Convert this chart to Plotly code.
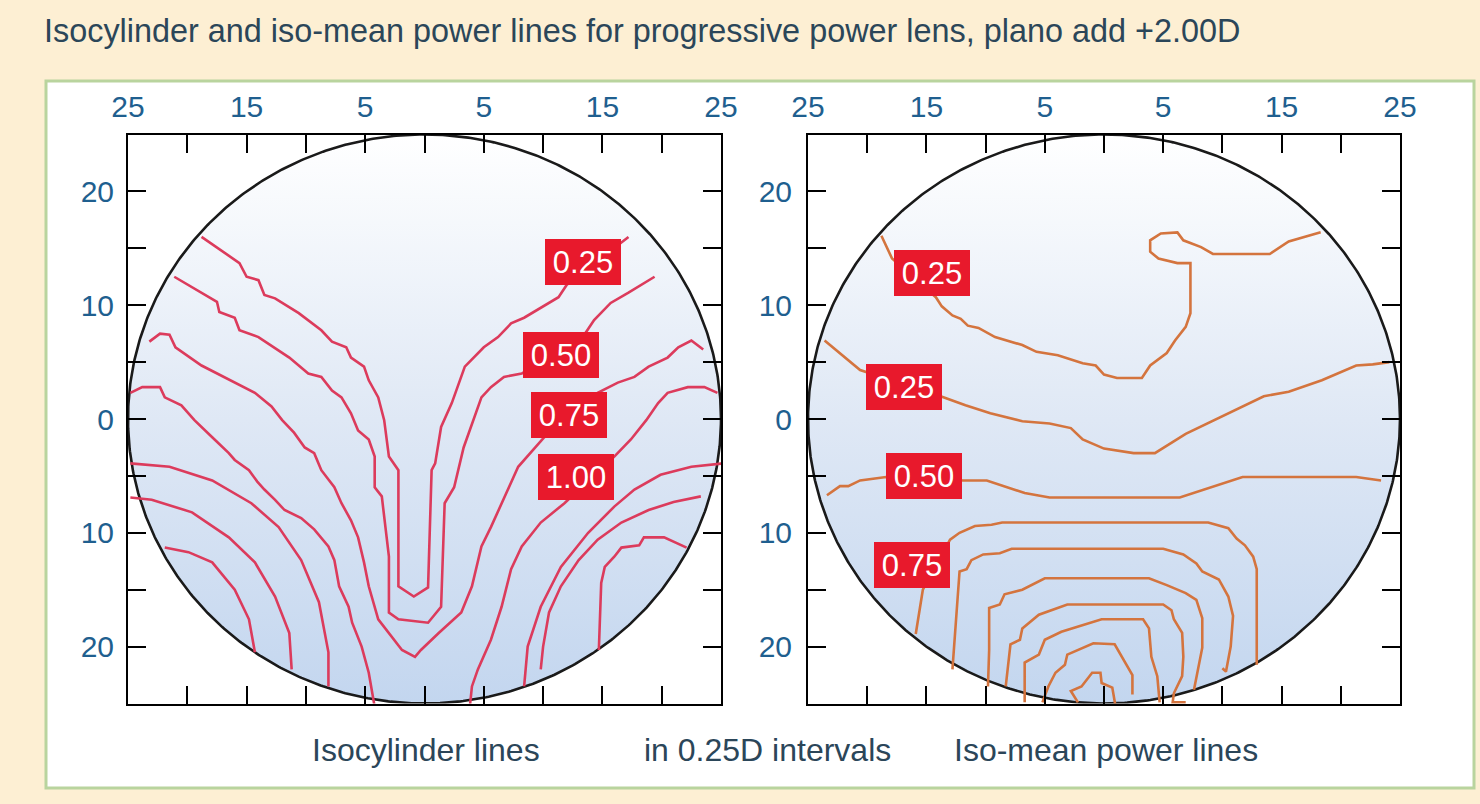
import numpy as np
import plotly.graph_objects as go

# ---------------- data (lens coordinates in mm) ----------------
TITLE = "Isocylinder and iso-mean power lines for progressive power lens, plano add +2.00D"
CAPTIONS = ["Isocylinder lines", "in 0.25D intervals", "Iso-mean power lines"]
LENS_RADIUS = 25
TICK_VALS = [-25, -20, -15, -10, -5, 0, 5, 10, 15, 20, 25]
X_TICK_TEXT = ["25", "", "15", "", "5", "", "5", "", "15", "", "25"]
Y_TICK_TEXT = ["", "20", "", "10", "", "0", "", "10", "", "20", ""]

# Isocylinder lines (left panel)
cyl_025 = [(-18.8, 16.0), (-15.6, 13.7), (-15.0, 12.5), (-14.0, 12.2), (-13.5, 10.9), (-12.6, 10.6),
           (-10.6, 9.3), (-8.7, 7.8), (-7.8, 6.8), (-6.6, 6.3), (-6.2, 5.4), (-5.1, 4.6), (-4.7, 3.4),
           (-3.9, 1.9), (-3.4, -0.1), (-3.0, -3.3), (-2.2, -4.5), (-2.2, -14.7), (-0.9, -15.6),
           (0.3, -14.8), (0.6, -4.5), (0.9, -3.9), (1.4, -0.7), (2.3, 1.4), (3.4, 4.6), (5.0, 6.3),
           (6.2, 7.2), (7.3, 8.4), (8.4, 8.9), (11.3, 10.7), (12.0, 11.8), (16.8, 15.7), (17.2, 16.0)]
cyl_050 = [(-21.1, 12.5), (-17.5, 10.3), (-17.3, 9.4), (-16.0, 8.9), (-15.6, 7.8), (-14.0, 7.2),
           (-11.4, 5.4), (-9.8, 4.0), (-8.7, 3.7), (-7.8, 2.5), (-7.0, 1.9), (-6.2, 0.5), (-5.6, -1.0),
           (-4.7, -1.8), (-4.2, -3.3), (-4.2, -6.0), (-3.6, -6.8), (-3.4, -8.6), (-3.0, -12.1),
           (-3.0, -17.0), (-2.2, -17.6), (0.3, -17.9), (1.4, -16.5), (1.7, -7.4), (2.5, -6.0),
           (3.3, -2.5), (4.0, -0.5), (4.8, 1.9), (5.6, 2.8), (6.7, 3.7), (8.2, 4.0), (13.6, 7.6),
           (14.3, 8.7), (15.7, 10.2), (17.2, 11.1), (19.4, 12.5)]
cyl_075 = [(-23.2, 6.8), (-22.3, 7.5), (-21.5, 7.4), (-21.0, 6.3), (-18.8, 4.7), (-17.3, 3.9),
           (-16.0, 3.2), (-14.3, 2.3), (-12.9, 1.1), (-12.0, -0.1), (-11.0, -1.2), (-10.1, -2.5),
           (-9.3, -3.0), (-8.7, -4.5), (-7.6, -6.0), (-7.0, -7.4), (-6.2, -8.9), (-5.6, -10.4),
           (-5.1, -12.6), (-4.7, -14.7), (-3.9, -17.6), (-3.0, -18.8), (-1.9, -20.3), (-0.8, -20.9),
           (-0.3, -20.3), (1.2, -18.8), (3.1, -17.0), (4.0, -14.7), (4.8, -11.2), (5.6, -9.5),
           (7.1, -6.0), (7.9, -4.2), (10.1, -1.6), (14.6, 2.3), (16.3, 3.2), (17.7, 3.7),
           (18.9, 4.6), (20.5, 5.4), (21.4, 6.3), (22.5, 6.9), (23.5, 6.1)]
cyl_100_left = [(-24.8, 2.3), (-23.8, 2.8), (-22.3, 2.8), (-21.9, 1.9), (-20.5, 1.2), (-19.4, -0.1),
                (-17.9, -1.6), (-16.5, -3.0), (-16.0, -3.6), (-14.8, -4.5), (-14.1, -5.5), (-13.5, -6.2),
                (-12.6, -7.1), (-11.8, -8.0), (-10.4, -8.7), (-9.3, -9.7), (-8.1, -11.2), (-7.6, -12.4),
                (-7.2, -14.7), (-6.4, -16.5), (-6.1, -17.9), (-5.3, -20.0), (-4.7, -22.3), (-4.2, -25.3)]
cyl_100_right = [(3.8, -25.5), (4.0, -23.5), (4.5, -22.0), (5.6, -19.4), (6.5, -16.5), (7.3, -13.2),
                 (8.2, -11.2), (9.8, -9.1), (11.8, -7.4), (16.0, -3.3), (17.4, -1.8), (18.7, -0.1),
                 (19.7, 1.4), (20.5, 2.3), (22.2, 2.8), (23.6, 2.8), (24.7, 2.3)]
cyl_125_left = [(-24.8, -3.9), (-21.5, -4.2), (-17.9, -5.4), (-14.6, -7.4), (-12.3, -9.5),
                (-10.4, -12.4), (-8.9, -16.1), (-8.1, -20.5), (-8.1, -23.5)]
cyl_150_left = [(-24.8, -6.9), (-23.0, -7.1), (-19.6, -8.2), (-16.5, -10.4), (-14.3, -12.6),
                (-12.6, -15.6), (-11.4, -18.8), (-11.2, -22.0)]
cyl_175_left = [(-21.9, -11.3), (-19.9, -11.7), (-17.9, -12.6), (-16.0, -15.0), (-14.8, -17.6),
                (-14.3, -20.5)]
cyl_125_right = [(25.2, -3.9), (22.5, -4.2), (19.9, -4.9), (17.7, -6.2), (16.0, -7.7), (13.8, -10.0),
                 (11.5, -13.0), (9.8, -16.5), (8.7, -20.0), (8.4, -23.5)]
cyl_150_right = [(23.3, -6.8), (21.0, -7.3), (18.9, -8.0), (16.6, -9.1), (14.6, -10.6), (13.0, -12.4),
                 (11.5, -14.7), (10.5, -17.0), (10.0, -20.0), (9.8, -22.0)]
cyl_175_right = [(22.1, -11.3), (20.2, -10.4), (18.5, -10.4), (18.1, -11.1), (16.6, -11.3),
                 (16.0, -12.1), (15.2, -13.0), (14.9, -14.4), (14.7, -20.3)]
CYL_LABELS = ["0.25", "0.50", "0.75", "1.00"]
CYL_LABEL_X = [13.4, 11.5, 12.2, 12.75]
CYL_LABEL_Y = [13.8, 5.6, 0.35, -5.1]

# Iso-mean power lines (right panel)
mean_025_upper = [(-18.8, 16.1), (-17.9, 14.1), (-14.2, 10.7), (-13.7, 9.9), (-12.8, 9.1), (-12.1, 8.8),
                  (-11.5, 8.2), (-10.6, 8.0), (-9.2, 7.2), (-6.9, 6.5), (-5.7, 5.9), (-3.9, 5.6),
                  (-1.8, 4.9), (-0.7, 4.7), (0.0, 3.9), (1.1, 3.6), (3.2, 3.6), (3.9, 4.7), (5.3, 5.8),
                  (6.0, 6.9), (6.9, 8.1), (7.3, 9.3), (7.3, 13.7), (6.2, 13.7), (4.6, 14.1), (3.9, 14.7),
                  (3.9, 15.7), (4.8, 16.3), (6.2, 16.4), (6.7, 15.7), (8.2, 15.1), (9.2, 14.5),
                  (14.0, 14.5), (15.6, 15.6), (18.3, 16.4)]
mean_025_lower = [(-23.6, 6.9), (-20.6, 4.3), (-13.8, 2.0), (-11.7, 1.2), (-9.6, 0.5), (-6.9, -0.2),
                  (-4.6, -0.4), (-2.8, -0.8), (-1.8, -1.8), (0.0, -2.6), (2.5, -3.0), (4.3, -3.0),
                  (6.9, -1.3), (9.9, 0.2), (13.5, 2.0), (15.6, 2.4), (18.4, 3.4), (21.3, 4.7),
                  (22.7, 4.8), (24.1, 5.0)]
mean_050 = [(-23.4, -6.7), (-22.3, -5.9), (-21.6, -5.9), (-20.6, -5.4), (-18.4, -5.1), (-11.9, -5.4),
            (-9.9, -5.4), (-6.7, -6.5), (-4.6, -6.9), (6.4, -6.9), (11.7, -5.1), (21.3, -5.1), (23.4, -5.4)]
mean_loop_1 = [(-15.9, -18.9), (-15.3, -15.0), (-13.0, -10.6), (-12.2, -10.0), (-10.9, -9.4),
               (-9.5, -9.3), (-8.6, -9.1), (8.8, -9.1), (10.5, -9.6), (11.2, -10.5), (11.9, -11.1),
               (12.6, -12.1), (12.9, -13.2), (12.9, -21.6)]
mean_loop_2 = [(-12.8, -22.0), (-12.4, -16.8), (-12.2, -13.4), (-11.6, -13.2), (-11.2, -12.4),
               (-10.2, -11.9), (-8.8, -11.8), (-7.8, -11.4), (5.0, -11.4), (6.7, -11.9), (7.8, -12.7),
               (8.3, -13.4), (9.7, -14.1), (10.5, -15.6), (10.9, -17.3), (10.7, -20.0), (10.3, -22.2),
               (10.0, -21.9)]
mean_loop_3 = [(-9.8, -23.5), (-9.7, -20.3), (-9.7, -16.6), (-8.8, -16.3), (-8.4, -15.4), (-6.9, -15.0),
               (-5.0, -14.0), (3.8, -14.0), (5.3, -14.6), (6.9, -15.3), (7.8, -15.9), (8.3, -17.5),
               (8.3, -20.1), (7.6, -23.8)]
mean_loop_4 = [(-8.3, -23.5), (-7.9, -19.8), (-7.1, -19.4), (-6.9, -18.4), (-5.5, -17.2), (-3.1, -16.3),
               (5.0, -16.3), (5.7, -16.8), (5.9, -17.6), (6.6, -18.8), (6.7, -20.9), (6.6, -22.6),
               (5.9, -24.1), (5.8, -24.9), (6.9, -24.9)]
mean_loop_5 = [(-6.7, -24.9), (-6.7, -21.4), (-5.5, -20.7), (-5.0, -19.4), (-3.6, -18.7), (-0.2, -17.6),
               (3.3, -17.6), (3.8, -18.4), (4.0, -20.9), (4.5, -22.6), (4.7, -24.9)]
mean_loop_6 = [(-5.2, -24.9), (-4.7, -23.5), (-4.1, -22.3), (-3.3, -21.6), (-3.1, -20.7), (-1.6, -20.0),
               (-0.9, -19.7), (0.9, -19.8), (1.6, -21.0), (2.4, -22.5), (2.4, -24.2)]
mean_loop_7 = [(-2.2, -24.9), (-2.8, -23.9), (-1.9, -23.5), (-1.0, -22.3), (-0.3, -22.3), (-0.2, -23.2),
               (0.7, -23.6), (1.0, -25.4)]
MEAN_LABELS = ["0.25", "0.25", "0.50", "0.75"]
MEAN_LABEL_X = [-14.5, -16.9, -15.2, -16.2]
MEAN_LABEL_Y = [12.8, 2.85, -5.0, -12.8]

# ---------------- styles ----------------
W, H = 1480, 804
BG = "#fdefd3"
CYL_COLOR = "#dc3b5c"
MEAN_COLOR = "#d4743e"
LABEL_BG = "#e8192c"
TICK_COLOR = "#1f5f8f"
TEXT_COLOR = "#2b4659"
FONT = "Liberation Sans"

X1_DOM = [128 / W, 721 / W]
X2_DOM = [808 / W, 1400 / W]
Y_DOM = [1 - 703.5 / H, 1 - 134.5 / H]

fig = go.Figure()

theta = np.linspace(0, 2 * np.pi, 721)
cx = LENS_RADIUS * np.cos(theta)
cy = LENS_RADIUS * np.sin(theta)

panels = [
    ("x", "y", CYL_COLOR,
     [cyl_025, cyl_050, cyl_075, cyl_100_left, cyl_100_right, cyl_125_left, cyl_150_left,
      cyl_175_left, cyl_125_right, cyl_150_right, cyl_175_right],
     CYL_LABELS, CYL_LABEL_X, CYL_LABEL_Y),
    ("x2", "y2", MEAN_COLOR,
     [mean_025_upper, mean_025_lower, mean_050, mean_loop_1, mean_loop_2, mean_loop_3,
      mean_loop_4, mean_loop_5, mean_loop_6, mean_loop_7],
     MEAN_LABELS, MEAN_LABEL_X, MEAN_LABEL_Y),
]

annotations = []
for xa, ya, color, lines, labels, lx, ly in panels:
    fig.add_trace(go.Scatter(
        x=cx, y=cy, xaxis=xa, yaxis=ya, mode="lines", fill="toself",
        fillgradient=dict(type="vertical", start=-LENS_RADIUS, stop=LENS_RADIUS,
                          colorscale=[[0, "#c3d6ef"], [0.5, "#dfe8f5"], [1, "#ffffff"]]),
        line=dict(color="#1a1a1a", width=2.6), hoverinfo="skip", showlegend=False))
    for pts in lines:
        fig.add_trace(go.Scatter(
            x=[p[0] for p in pts], y=[p[1] for p in pts], xaxis=xa, yaxis=ya,
            mode="lines", line=dict(color=color, width=2.6), hoverinfo="skip", showlegend=False))
    for t, x, y in zip(labels, lx, ly):
        annotations.append(dict(
            x=x, y=y, xref=xa, yref=ya, text=t, showarrow=False,
            bgcolor=LABEL_BG, width=72, height=42, borderpad=2, borderwidth=0,
            font=dict(family=FONT, size=31, color="white")))

annotations.append(dict(x=42 / W, y=1 - 31 / H, xref="paper", yref="paper", text=TITLE,
                        showarrow=False, xanchor="left", yanchor="middle",
                        font=dict(family=FONT, size=32.4, color=TEXT_COLOR)))
for t, xc in zip(CAPTIONS, [426, 767, 1106]):
    annotations.append(dict(x=xc / W, y=1 - 750 / H, xref="paper", yref="paper", text=t,
                            showarrow=False, xanchor="center", yanchor="middle",
                            font=dict(family=FONT, size=32, color=TEXT_COLOR)))

common = dict(range=[-LENS_RADIUS, LENS_RADIUS], tickmode="array", tickvals=TICK_VALS,
              ticks="inside", ticklen=18, tickwidth=2, tickcolor="black",
              showline=True, linecolor="black", linewidth=2, mirror="allticks",
              showgrid=False, zeroline=False, fixedrange=True, automargin=False,
              tickfont=dict(family=FONT, size=30, color=TICK_COLOR))

fig.update_layout(
    width=W, height=H, autosize=False,
    margin=dict(l=0, r=0, t=0, b=0, pad=0, autoexpand=False),
    paper_bgcolor=BG, plot_bgcolor="white",
    xaxis=dict(domain=X1_DOM, anchor="y", side="top", ticktext=X_TICK_TEXT,
               ticklabelstandoff=4, **common),
    yaxis=dict(domain=Y_DOM, anchor="x", ticktext=Y_TICK_TEXT, ticklabelstandoff=6, **common),
    xaxis2=dict(domain=X2_DOM, anchor="y2", side="top", ticktext=X_TICK_TEXT,
                ticklabelstandoff=4, **common),
    yaxis2=dict(domain=Y_DOM, anchor="x2", ticktext=Y_TICK_TEXT, ticklabelstandoff=8, **common),
    shapes=[dict(type="rect", xref="paper", yref="paper", x0=46 / W, x1=1474 / W,
                 y0=1 - 788 / H, y1=1 - 81 / H, fillcolor="white",
                 line=dict(color="#b9d49e", width=3), layer="below")],
    annotations=annotations,
)

fig.write_html(
    "out.html",
    config={"responsive": False, "displayModeBar": False},
    post_script="document.body.style.margin='0px';document.body.style.overflow='hidden';",
)
